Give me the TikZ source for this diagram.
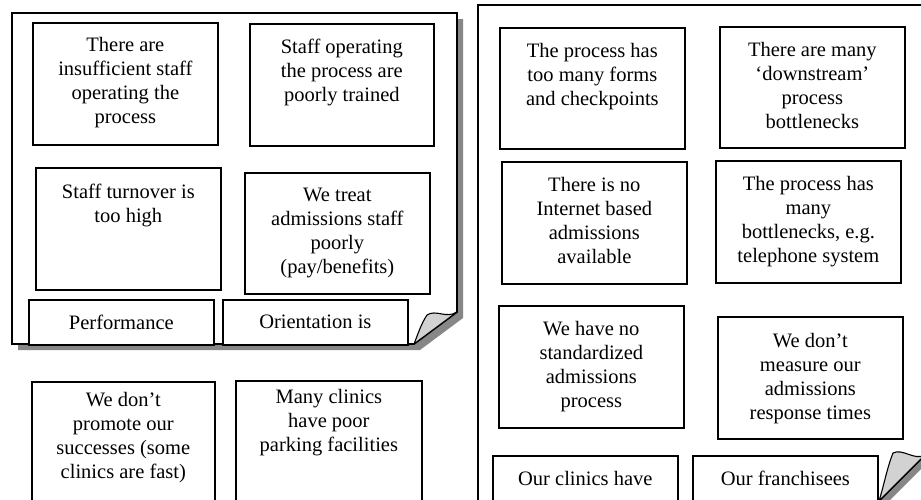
\documentclass[tikz,border=0pt]{standalone}
\usepackage{fontspec}
\setmainfont{Liberation Serif}
\definecolor{shadowgray}{HTML}{878787}
\definecolor{curlgray}{HTML}{D2D2D2}
\begin{document}
\begin{tikzpicture}[x=1pt,y=-1pt,
  panel/.style={draw=black,line width=1.7pt,fill=white,line join=miter},
  card/.style={draw=black,line width=1.7pt,fill=white,inner sep=0pt,anchor=north west},
  cardtext/.style={anchor=north,align=center,inner sep=0pt,font=\fontsize{20.5}{24}\selectfont},
  shade/.style={fill=shadowgray},
  curl/.style={draw=black,line width=1.1pt,fill=curlgray,line join=round}]
\clip (0,0) rectangle (921,499);
\fill[white] (0,0) rectangle (921,499);

% ---------- left panel ----------
\fill[shade] (18,19) -- (463,19) -- (463,318) -- (420,350) -- (18,350) -- cycle;
\filldraw[panel] (12,13) -- (457,13) -- (457,312) -- (414,344) -- (12,344) -- cycle;
\filldraw[curl] (457,312) .. controls (446,319) and (436,309) .. (427,315)
  .. controls (421,324) and (418,334) .. (414,344) -- cycle;

\node[card,minimum width=185pt,minimum height=122pt] (A) at (32,22) {};
\node[cardtext] (At) at ([yshift=-15pt]A.north) {There are\\insufficient staff\\operating the\\process};
\node[card,minimum width=184pt,minimum height=122pt] (B) at (249,23) {};
\node[cardtext] (Bt) at ([yshift=-16pt]B.north) {Staff operating\\the process are\\poorly trained};
\node[card,minimum width=185pt,minimum height=122pt] (C) at (35,167) {};
\node[cardtext] (Ct) at ([yshift=-17pt]C.north) {Staff turnover is\\too high};
\node[card,minimum width=185pt,minimum height=121pt] (D) at (244,172) {};
\node[cardtext] (Dt) at ([yshift=-16pt]D.north) {We treat\\admissions staff\\poorly\\(pay/benefits)};
\node[card,minimum width=185pt,minimum height=45pt] (P) at (28,299) {};
\node[cardtext] (Pt) at ([yshift=-16pt]P.north) {Performance};
\node[card,minimum width=185pt,minimum height=45pt] (O) at (222,299) {};
\node[cardtext] (Ot) at ([yshift=-16pt]O.north) {Orientation is};

% ---------- bottom-left cards ----------
\node[card,minimum width=183pt,minimum height=180pt] (L1) at (31,381) {};
\node[cardtext] (L1t) at ([yshift=-11pt]L1.north) {We don’t\\promote our\\successes (some\\clinics are fast)};
\node[card,minimum width=186pt,minimum height=180pt] (L2) at (235,380) {};
\node[cardtext] (L2t) at ([yshift=-9pt]L2.north) {Many clinics\\have poor\\parking facilities};

% ---------- right panel ----------
\fill[shade] (483,10) -- (930,10) -- (930,460) -- (884,506) -- (483,506) -- cycle;
\filldraw[panel] (478,5) -- (925,5) -- (925,455) -- (879,501) -- (478,501) -- cycle;
\filldraw[curl] (925,455) .. controls (914,461) and (903,448) .. (893,453)
  .. controls (887,468) and (884,485) .. (879,501) -- cycle;

\node[card,minimum width=185pt,minimum height=121pt] (R1) at (499,27) {};
\node[cardtext] (R1t) at ([yshift=-16pt]R1.north) {The process has\\too many forms\\and checkpoints};
\node[card,minimum width=185pt,minimum height=121pt] (R2) at (719,26) {};
\node[cardtext] (R2t) at ([yshift=-16pt]R2.north) {There are many\\‘downstream’\\process\\bottlenecks};
\node[card,minimum width=185pt,minimum height=122pt] (R3) at (501,161) {};
\node[cardtext] (R3t) at ([yshift=-16pt]R3.north) {There is no\\Internet based\\admissions\\available};
\node[card,minimum width=185pt,minimum height=122pt] (R4) at (715,160) {};
\node[cardtext] (R4t) at ([yshift=-16pt]R4.north) {The process has\\many\\bottlenecks, e.g.\\telephone system};
\node[card,minimum width=185pt,minimum height=122pt] (R5) at (498,305) {};
\node[cardtext] (R5t) at ([yshift=-16pt]R5.north) {We have no\\standardized\\admissions\\process};
\node[card,minimum width=185pt,minimum height=122pt] (R6) at (717,316) {};
\node[cardtext] (R6t) at ([yshift=-17pt]R6.north) {We don’t\\measure our\\admissions\\response times};
\node[card,minimum width=185pt,minimum height=100pt] (R7) at (492,455) {};
\node[cardtext] (R7t) at ([yshift=-16pt]R7.north) {Our clinics have};
\node[card,minimum width=185pt,minimum height=100pt] (R8) at (692,455) {};
\node[cardtext] (R8t) at ([yshift=-16pt]R8.north) {Our franchisees};
\end{tikzpicture}
\end{document}
